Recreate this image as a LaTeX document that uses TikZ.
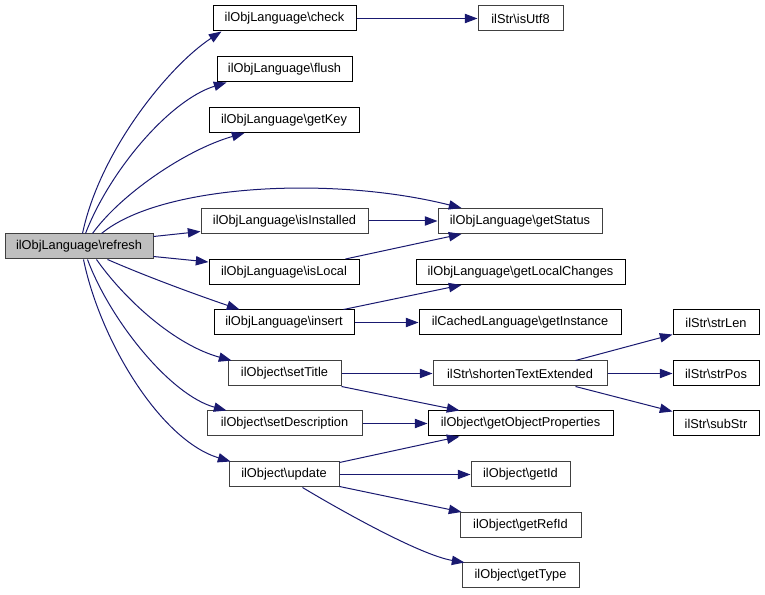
\documentclass[tikz,border=0pt]{standalone}
\usepackage{fontspec}
\setmainfont{Liberation Sans}
\usetikzlibrary{arrows.meta,calc}
\definecolor{edgecol}{HTML}{191970}
\definecolor{dgray}{HTML}{404040}
\definecolor{nodefill}{HTML}{BFBFBF}
\tikzset{
  box/.style={draw=black, line width=0.75pt, fill=white, rectangle, inner sep=0pt,
    minimum height=18.75pt, font=\fontsize{9.6}{11}\selectfont},
  gbox/.style={box, draw=dgray},
  wd/.style={minimum width=#1*0.75pt},
  edge/.style={draw=edgecol, line width=0.75pt, -{Triangle[length=9.5pt,width=7pt]}, fill=none}
}
\begin{document}
\begin{tikzpicture}[x=0.75pt,y=-0.75pt]
\useasboundingbox (0,0) rectangle (765,595);
% nodes
\node[gbox, fill=nodefill, wd=148] (refresh) at (79,246.5) {ilObjLanguage\textbackslash refresh};
\node[box, wd=143] (check) at (284.5,18.5) {ilObjLanguage\textbackslash check};
\node[gbox, wd=85] (isUtf8) at (520.5,18.5) {ilStr\textbackslash isUtf8};
\node[box, wd=135] (flush) at (284.5,69.5) {ilObjLanguage\textbackslash flush};
\node[box, wd=150] (getKey) at (284,120) {ilObjLanguage\textbackslash getKey};
\node[gbox, wd=167] (isInstalled) at (284.5,221) {ilObjLanguage\textbackslash isInstalled};
\node[gbox, wd=164] (getStatus) at (520,221) {ilObjLanguage\textbackslash getStatus};
\node[box, wd=150] (isLocal) at (284,272) {ilObjLanguage\textbackslash isLocal};
\node[box, wd=209] (getLocalChanges) at (520.5,272) {ilObjLanguage\textbackslash getLocalChanges};
\node[box, wd=140] (insert) at (284,322.5) {ilObjLanguage\textbackslash insert};
\node[box, wd=202] (getInstance) at (520,322.5) {ilCachedLanguage\textbackslash getInstance};
\node[gbox, wd=113] (setTitle) at (284.5,373.5) {ilObject\textbackslash setTitle};
\node[gbox, wd=174] (shorten) at (520,373.5) {ilStr\textbackslash shortenTextExtended};
\node[box, wd=86] (strLen) at (716,322.5) {ilStr\textbackslash strLen};
\node[box, wd=86] (strPos) at (716,373.5) {ilStr\textbackslash strPos};
\node[box, wd=86] (subStr) at (716,423.5) {ilStr\textbackslash subStr};
\node[gbox, wd=155] (setDescription) at (284.5,423.5) {ilObject\textbackslash setDescription};
\node[box, wd=185] (getObjProps) at (520.5,423.5) {ilObject\textbackslash getObjectProperties};
\node[gbox, wd=110] (update) at (284,474.5) {ilObject\textbackslash update};
\node[gbox, wd=99] (getId) at (520.5,474.5) {ilObject\textbackslash getId};
\node[gbox, wd=121] (getRefId) at (520.5,525) {ilObject\textbackslash getRefId};
\node[gbox, wd=117] (getType) at (520.5,575.5) {ilObject\textbackslash getType};
% edges from refresh
\draw[edge] ($(refresh.north west)+(78,0)$) .. controls (100,150) and (170,65) .. ($(check.south west)+(9,0)$);
\draw[edge] ($(refresh.north west)+(81,0)$) .. controls (110,170) and (170,100) .. ($(flush.south west)+(10,0)$);
\draw[edge] ($(refresh.north west)+(88,0)$) .. controls (120,195) and (185,150) .. ($(getKey.south west)+(36,0)$);
\draw[edge] ($(refresh.north west)+(97,0)$) .. controls (160,185) and (330,175) .. ($(getStatus.north west)+(24,0)$);
\draw[edge] ($(refresh.north east)+(0,3)$) -- ($(isInstalled.south west)+(0,-2.5)$);
\draw[edge] ($(refresh.south east)+(0,-3)$) -- ($(isLocal.north west)+(0,3)$);
\draw[edge] ($(refresh.south west)+(103,0)$) .. controls (150,278) and (200,296) .. ($(insert.north west)+(26,0)$);
\draw[edge] ($(refresh.south west)+(92,0)$) .. controls (125,300) and (175,345) .. ($(setTitle.north west)+(4,0)$);
\draw[edge] ($(refresh.south west)+(83,0)$) .. controls (110,320) and (170,395) .. ($(setDescription.north west)+(20,0)$);
\draw[edge] ($(refresh.south west)+(79,0)$) .. controls (100,340) and (160,440) .. ($(update.north west)+(2,0)$);
% other edges
\draw[edge] (check.east) -- (isUtf8.west);
\draw[edge] (isInstalled.east) -- (getStatus.west);
\draw[edge] ($(isLocal.north east)+(-14,0)$) -- ($(getStatus.south west)+(24,0)$);
\draw[edge] ($(insert.north east)+(-11,0)$) -- ($(getLocalChanges.south west)+(46,0)$);
\draw[edge] (insert.east) -- (getInstance.west);
\draw[edge] (setTitle.east) -- (shorten.west);
\draw[edge] (setTitle.south east) -- ($(getObjProps.north west)+(32,0)$);
\draw[edge] (setDescription.east) -- (getObjProps.west);
\draw[edge] ($(update.north east)+(0,1)$) -- ($(getObjProps.south west)+(32,0)$);
\draw[edge] (update.east) -- (getId.west);
\draw[edge] ($(update.south east)+(0,-1)$) -- ($(getRefId.north west)+(2,0)$);
\draw[edge] ($(update.south west)+(74,0)$) .. controls (340,510) and (420,555) .. ($(getType.north west)+(3,0)$);
\draw[edge] ($(shorten.north east)+(-32,0)$) -- ($(strLen.south west)+(0,-1)$);
\draw[edge] (shorten.east) -- (strPos.west);
\draw[edge] ($(shorten.south east)+(-32,0)$) -- ($(subStr.north west)+(0,1)$);
\end{tikzpicture}
\end{document}
